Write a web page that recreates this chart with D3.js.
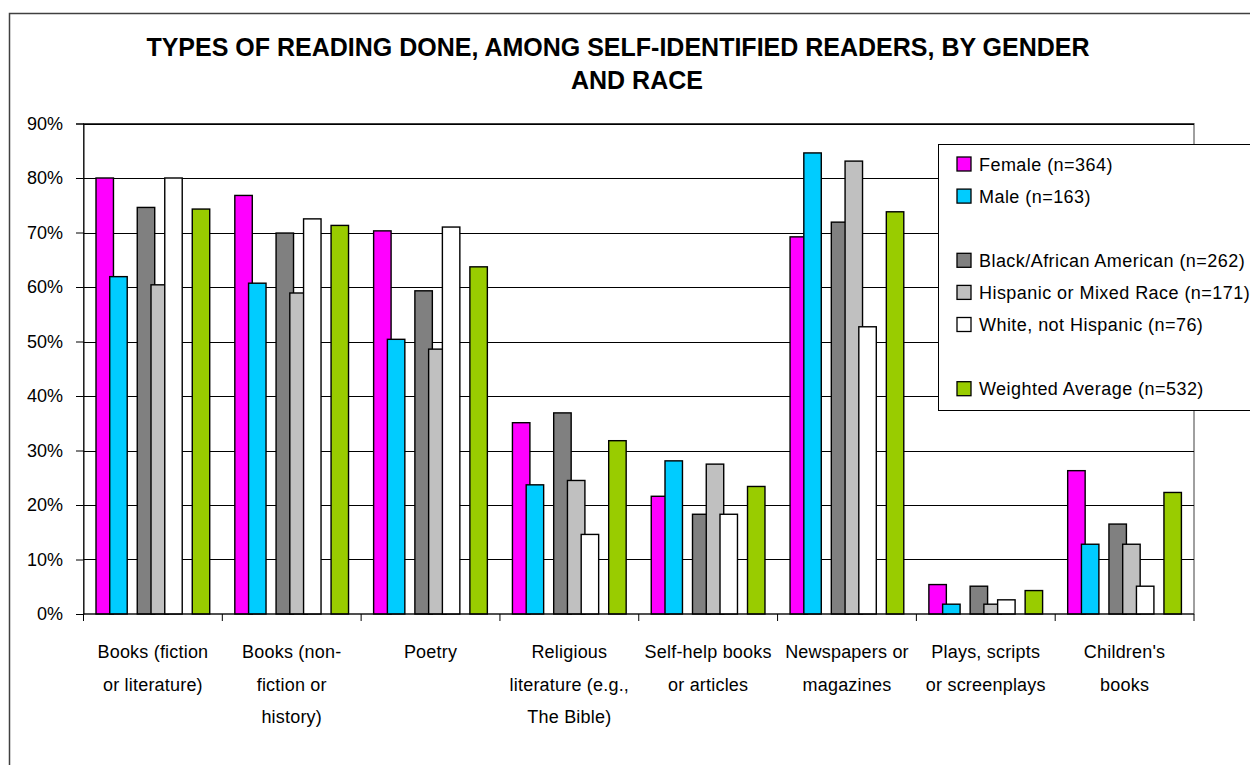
<!DOCTYPE html>
<html>
<head>
<meta charset="utf-8">
<script src="https://cdn.jsdelivr.net/npm/d3@7"></script>
<style>
  html, body { margin: 0; padding: 0; background: #fff; }
  svg { display: block; font-family: "Liberation Sans", Arial, sans-serif; }
</style>
</head>
<body>
<script>
// ---------------- DATA ----------------
const titleLines = ["TYPES OF READING DONE, AMONG SELF-IDENTIFIED READERS, BY GENDER", "AND RACE"];

const categories = [
  "Books (fiction or literature)",
  "Books (non-fiction or history)",
  "Poetry",
  "Religious literature (e.g., The Bible)",
  "Self-help books or articles",
  "Newspapers or magazines",
  "Plays, scripts or screenplays",
  "Children's books"
];
const categoryLabelLines = [
  ["Books (fiction", "or literature)"],
  ["Books (non-", "fiction or", "history)"],
  ["Poetry"],
  ["Religious", "literature (e.g.,", "The Bible)"],
  ["Self-help books", "or articles"],
  ["Newspapers or", "magazines"],
  ["Plays, scripts", "or screenplays"],
  ["Children's", "books"]
];

const seriesNames = [
  "Female (n=364)",
  "Male (n=163)",
  "Black/African American (n=262)",
  "Hispanic or Mixed Race (n=171)",
  "White, not Hispanic (n=76)",
  "Weighted Average (n=532)"
];
// slot order used for bars and legend rows (blank entries are empty series)
const slotOrder = [
  "Female (n=364)",
  "Male (n=163)",
  "blank1",
  "Black/African American (n=262)",
  "Hispanic or Mixed Race (n=171)",
  "White, not Hispanic (n=76)",
  "blank2",
  "Weighted Average (n=532)"
];

const female   = [0.800, 0.768, 0.703, 0.351, 0.216, 0.692, 0.054, 0.263];
const male     = [0.619, 0.607, 0.504, 0.237, 0.281, 0.846, 0.018, 0.128];
const black    = [0.746, 0.699, 0.593, 0.369, 0.183, 0.719, 0.051, 0.165];
const hispanic = [0.604, 0.589, 0.486, 0.245, 0.275, 0.831, 0.018, 0.128];
const white    = [0.800, 0.725, 0.710, 0.146, 0.183, 0.527, 0.026, 0.051];
const weighted = [0.743, 0.713, 0.637, 0.318, 0.234, 0.738, 0.043, 0.223];

const yTickValues = [0, 0.1, 0.2, 0.3, 0.4, 0.5, 0.6, 0.7, 0.8, 0.9];

const seriesColors = ["#FF00FF", "#00CCFF", "#808080", "#C0C0C0", "#FFFFFF", "#99CC00"];

// ---------------- LAYOUT ----------------
const W = 1250, H = 765;
const plot = { left: 83.5, right: 1194, top: 123.5, bottom: 614 };

const seriesValues = [female, male, black, hispanic, white, weighted];
const series = seriesNames.map((name, i) => ({ name, values: seriesValues[i], color: seriesColors[i] }));

const svg = d3.select("body").append("svg").attr("width", W).attr("height", H);

// chart area border
svg.append("rect")
  .attr("x", 9.5).attr("y", 13.5).attr("width", 1400).attr("height", 900)
  .attr("fill", "#fff").attr("stroke", "#404040").attr("stroke-width", 1.5);

// title
const titleG = svg.append("g").attr("font-weight", "bold").attr("font-size", 25).attr("fill", "#000");
titleG.append("text").attr("x", 618).attr("y", 56).attr("text-anchor", "middle").text(titleLines[0]);
titleG.append("text").attr("x", 637).attr("y", 89).attr("text-anchor", "middle").text(titleLines[1]);

// scales
const x0 = d3.scaleBand().domain(categories).range([plot.left, plot.right]).paddingInner(0).paddingOuter(0);
const catW = x0.bandwidth();
const x1 = d3.scaleBand().domain(slotOrder).range([12.5, catW - 16.3]);
const barW = x1.bandwidth() * 1.27;
const y = d3.scaleLinear().domain([0, 0.9]).range([plot.bottom, plot.top]);

// plot area border
svg.append("rect")
  .attr("x", plot.left).attr("y", plot.top)
  .attr("width", plot.right - plot.left).attr("height", plot.bottom - plot.top)
  .attr("fill", "none").attr("stroke", "#404040").attr("stroke-width", 1);

// gridlines
svg.append("g")
  .selectAll("line").data(yTickValues.slice(1)).join("line")
  .attr("x1", plot.left).attr("x2", plot.right)
  .attr("y1", d => Math.round(y(d)) + 0.5).attr("y2", d => Math.round(y(d)) + 0.5)
  .attr("stroke", "#000").attr("stroke-width", 1);

// bars
const barsG = svg.append("g");
series.forEach(s => {
  barsG.append("g").selectAll("rect").data(s.values.map((v, i) => ({ cat: categories[i], v }))).join("rect")
    .attr("x", d => x0(d.cat) + x1(s.name))
    .attr("y", d => y(d.v))
    .attr("width", barW)
    .attr("height", d => y(0) - y(d.v))
    .attr("fill", s.color)
    .attr("stroke", "#000").attr("stroke-width", 1.4);
});

// y axis
const yAxis = d3.axisLeft(y).tickValues(yTickValues).tickFormat(d3.format(".0%")).tickSize(7.5).tickPadding(13);
const yG = svg.append("g").attr("transform", `translate(${plot.left},0)`).call(yAxis);
yG.select(".domain").attr("stroke", "#000");
yG.selectAll(".tick line").attr("stroke", "#000");
yG.selectAll(".tick text").attr("font-size", 18).attr("font-family", "Liberation Sans, Arial, sans-serif").attr("fill", "#000");

// x axis line and ticks at category boundaries
const xG = svg.append("g");
xG.append("line").attr("x1", plot.left).attr("x2", plot.right)
  .attr("y1", plot.bottom).attr("y2", plot.bottom).attr("stroke", "#000").attr("stroke-width", 1.2);
const boundaries = categories.map(c => x0(c)).concat([x0(categories[categories.length - 1]) + catW]);
xG.selectAll("line.tk").data(boundaries).join("line").attr("class", "tk")
  .attr("x1", d => d).attr("x2", d => d).attr("y1", plot.bottom).attr("y2", plot.bottom + 7)
  .attr("stroke", "#000");

// category labels
const labG = svg.append("g").attr("font-size", 18).attr("fill", "#000").attr("text-anchor", "middle")
  .attr("letter-spacing", 0.2);
categories.forEach((c, i) => {
  const t = labG.append("text").attr("x", x0(c) + catW / 2).attr("y", 658);
  categoryLabelLines[i].forEach((ln, j) => {
    t.append("tspan").attr("x", x0(c) + catW / 2).attr("y", 658 + j * 32.5).text(ln);
  });
});

// legend
const lg = svg.append("g");
lg.append("rect").attr("x", 938.5).attr("y", 144.5).attr("width", 400).attr("height", 266)
  .attr("fill", "#fff").attr("stroke", "#000").attr("stroke-width", 1);
const rowY = d3.scalePoint().domain(slotOrder).range([164, 164 + 7 * 32.1]);
series.forEach(s => {
  const cy = rowY(s.name);
  lg.append("rect").attr("x", 957).attr("y", cy - 7).attr("width", 14).attr("height", 14)
    .attr("fill", s.color).attr("stroke", "#000").attr("stroke-width", 1.3);
  lg.append("text").attr("x", 979).attr("y", cy + 6.5).attr("font-size", 18)
    .attr("letter-spacing", 0.45).attr("fill", "#000").text(s.name);
});
</script>
</body>
</html>
